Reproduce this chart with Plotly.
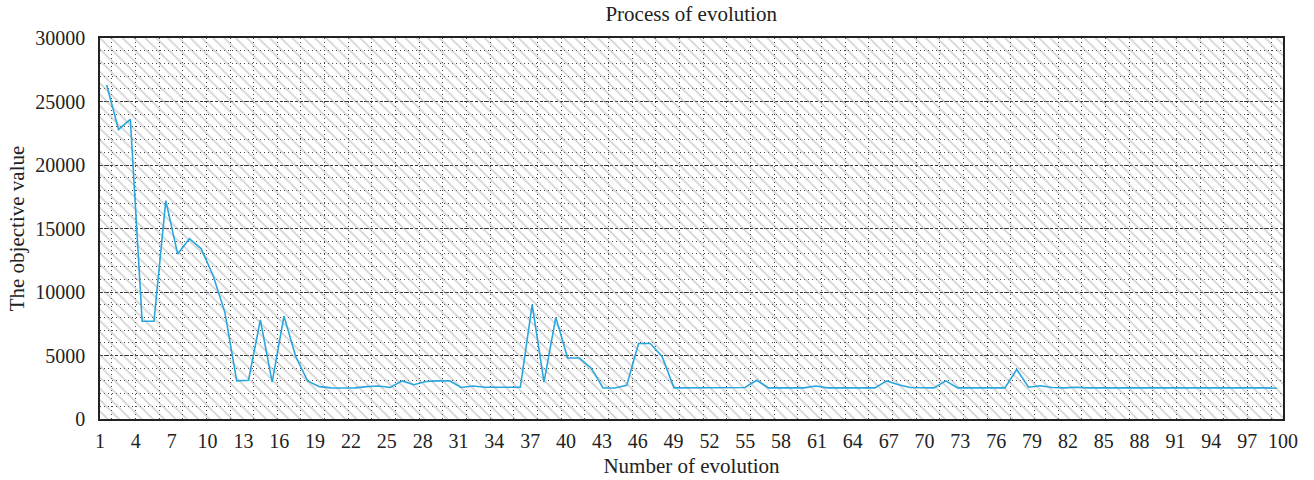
import plotly.graph_objects as go

# ---- data ----
evolution = list(range(1, 101))
objective = [
    26300, 22800, 23600, 7700, 7700, 17200, 13000, 14200, 13400, 11300,
    8400, 3000, 3050, 7800, 2900, 8100, 4900, 3000, 2550, 2450,
    2440, 2450, 2550, 2600, 2480, 3000, 2700, 2950, 3000, 3000,
    2480, 2600, 2500, 2500, 2500, 2500, 9000, 2900, 8000, 4800,
    4800, 4000, 2440, 2440, 2650, 5950, 5950, 4900, 2450, 2450,
    2450, 2450, 2450, 2450, 2480, 3050, 2450, 2450, 2450, 2450,
    2600, 2450, 2450, 2450, 2450, 2450, 3000, 2700, 2480, 2450,
    2450, 3000, 2450, 2450, 2450, 2450, 2450, 3900, 2500, 2620,
    2480, 2450, 2500, 2450, 2450, 2450, 2450, 2450, 2450, 2450,
    2480, 2470, 2450, 2450, 2450, 2450, 2450, 2480, 2450, 2420,
]
x_ticks = list(range(1, 101, 3))
y_ticks = [0, 5000, 10000, 15000, 20000, 25000, 30000]

X_RANGE = [1, 100]
Y_RANGE = [0, 30000]
DATA_X_RANGE = [0.433, 100.53]

FONT = "Liberation Serif"
fig = go.Figure()

# hatched plot background
fig.add_trace(go.Scatter(
    x=[X_RANGE[0], X_RANGE[1], X_RANGE[1], X_RANGE[0], X_RANGE[0]],
    y=[Y_RANGE[0], Y_RANGE[0], Y_RANGE[1], Y_RANGE[1], Y_RANGE[0]],
    mode="lines", line=dict(width=0), fill="toself",
    fillcolor="rgba(0,0,0,0)",
    fillpattern=dict(shape="\\", size=8, solidity=0.2,
                     fgcolor="#a4a4a4", bgcolor="rgba(0,0,0,0)"),
    hoverinfo="skip", showlegend=False,
))

fig.add_trace(go.Scatter(
    x=evolution, y=objective, xaxis="x2", mode="lines",
    line=dict(color="#2aa6df", width=1.6), showlegend=False,
))

fig.update_layout(
    width=1314, height=480,
    margin=dict(l=100, r=31, t=38, b=61, autoexpand=False),
    paper_bgcolor="white", plot_bgcolor="white",
    font=dict(family=FONT, size=20, color="#222"),
    title=dict(text="Process of evolution", x=0.526, xanchor="center",
               y=0.972, yanchor="middle", automargin=False,
               font=dict(family=FONT, size=21, color="#222")),
    xaxis=dict(
        range=X_RANGE, tickvals=x_ticks, showgrid=False, zeroline=False,
        showline=True, linecolor="#222", linewidth=1.5, mirror=True,
        ticks="", ticklabelstandoff=3, automargin=False,
        minor=dict(tick0=1.98, dtick=1.98, showgrid=True, gridcolor="#444",
                   griddash="1px,3px", gridwidth=1),
        title=dict(text="Number of evolution", standoff=8,
                   font=dict(family=FONT, size=21, color="#222")),
    ),
    xaxis2=dict(range=DATA_X_RANGE, overlaying="x", visible=False),
    yaxis=dict(
        range=Y_RANGE, tickvals=y_ticks, tickformat="d", zeroline=False,
        showline=True, linecolor="#222", linewidth=1.5, mirror=True,
        showgrid=True, gridcolor="#333", griddash="3px,2px", gridwidth=1,
        ticks="", ticklabelstandoff=9, automargin=False,
        minor=dict(dtick=1000, showgrid=True, gridcolor="#444",
                   griddash="1px,3px", gridwidth=1),
        title=dict(text="The objective value", standoff=5,
                   font=dict(family=FONT, size=21, color="#222")),
    ),
)

fig.write_html("out.html",
               config={"displayModeBar": False},
               post_script="document.body.style.margin='0px';document.body.style.padding='0px';")
